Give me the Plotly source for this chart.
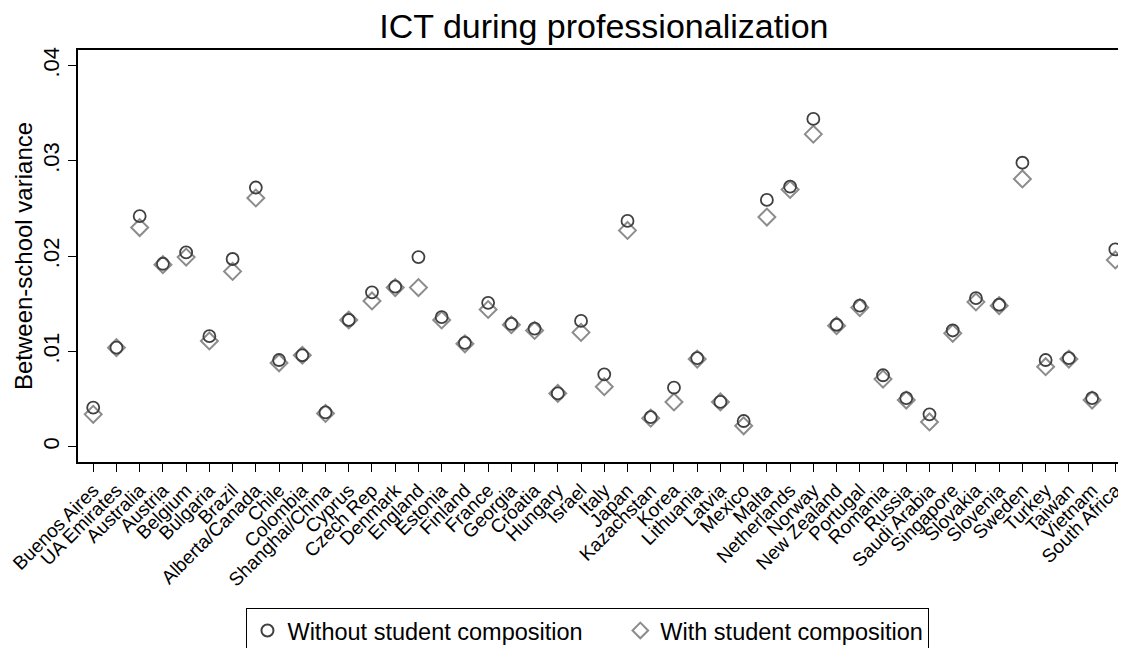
import plotly.graph_objects as go

countries = ["Buenos Aires", "UA Emirates", "Australia", "Austria", "Belgium", "Bulgaria", "Brazil",
             "Alberta/Canada", "Chile", "Colombia", "Shanghai/China", "Cyprus", "Czech Rep", "Denmark",
             "England", "Estonia", "Finland", "France", "Georgia", "Croatia", "Hungary", "Israel", "Italy",
             "Japan", "Kazachstan", "Korea", "Lithuania", "Latvia", "Mexico", "Malta", "Netherlands",
             "Norway", "New Zealand", "Portugal", "Romania", "Russia", "Saudi Arabia", "Singapore",
             "Slovakia", "Slovenia", "Sweden", "Turkey", "Taiwan", "Vietnam", "South Africa"]

without_comp = [0.0041, 0.0104, 0.0242, 0.0192, 0.0204, 0.0116, 0.0197, 0.0272, 0.0091, 0.0096,
                0.0036, 0.0133, 0.0162, 0.0168, 0.0199, 0.0136, 0.0109, 0.0151, 0.0129, 0.0124,
                0.0056, 0.0132, 0.0076, 0.0237, 0.0031, 0.0062, 0.0093, 0.0047, 0.0027, 0.0259,
                0.0273, 0.0344, 0.0128, 0.0148, 0.0075, 0.0051, 0.0034, 0.0122, 0.0156, 0.0149,
                0.0298, 0.0091, 0.0093, 0.0051, 0.0207]

with_comp = [0.0034, 0.0104, 0.0230, 0.0191, 0.0199, 0.0111, 0.0184, 0.0261, 0.0088, 0.0096,
             0.0035, 0.0133, 0.0153, 0.0167, 0.0167, 0.0133, 0.0108, 0.0144, 0.0128, 0.0122,
             0.0056, 0.0120, 0.0063, 0.0227, 0.0030, 0.0047, 0.0092, 0.0047, 0.0022, 0.0241,
             0.0270, 0.0328, 0.0127, 0.0146, 0.0071, 0.0049, 0.0026, 0.0119, 0.0152, 0.0148,
             0.0281, 0.0084, 0.0092, 0.0049, 0.0196]

ytick_vals = [0, 0.01, 0.02, 0.03, 0.04]
ytick_text = ["0", ".01", ".02", ".03", ".04"]

xs = list(range(len(countries)))
font = "Liberation Sans, Arial, Helvetica, sans-serif"

fig = go.Figure()
fig.add_trace(go.Scatter(x=xs, y=with_comp, mode="markers", name="With student composition",
                         legendrank=2,
                         marker=dict(symbol="diamond-open", size=13, color="#8c8c8c",
                                     line=dict(width=2, color="#8c8c8c"))))
fig.add_trace(go.Scatter(x=xs, y=without_comp, mode="markers",
                         name="Without student composition&nbsp;&nbsp;&nbsp;&nbsp;&nbsp;",
                         legendrank=1,
                         marker=dict(symbol="circle-open", size=12, color="#404040",
                                     line=dict(width=1.8, color="#404040"))))

# page body has an 8px margin, so the figure is a bit smaller than the window
fig.update_layout(
    width=1118, height=640,
    margin=dict(l=70, r=3, t=42, b=186),
    paper_bgcolor="white", plot_bgcolor="white",
    font=dict(family=font, color="black"),
    title=dict(text="ICT during professionalization", x=0.533, xanchor="center",
               y=0.972, yanchor="middle", font=dict(size=34, color="black")),
    showlegend=True,
    legend=dict(orientation="h", x=0.488, xanchor="center", xref="paper",
                y=0.063, yanchor="top", yref="container",
                bordercolor="black", borderwidth=1, font=dict(size=23.5),
                itemsizing="constant", itemwidth=30, traceorder="normal"),
)

fig.update_xaxes(range=[-0.655, 44.33], tickmode="array", tickvals=xs, ticktext=countries,
                 tickangle=-45, tickfont=dict(size=19), ticks="outside", ticklen=8,
                 tickcolor="black", showline=True, linecolor="black", linewidth=1.5,
                 mirror=True, showgrid=False, zeroline=False, automargin=False)
fig.update_yaxes(range=[-0.0016, 0.04163], tickmode="array", tickvals=ytick_vals,
                 ticktext=ytick_text, tickangle=-90, tickfont=dict(size=22),
                 ticks="outside", ticklen=8, tickcolor="black", showline=True,
                 linecolor="black", linewidth=1.5, mirror=True, showgrid=False,
                 zeroline=False, automargin=False, ticklabelstandoff=0,
                 title=dict(text="Between-school variance", font=dict(size=24), standoff=0))

fig.write_html("out.html")
